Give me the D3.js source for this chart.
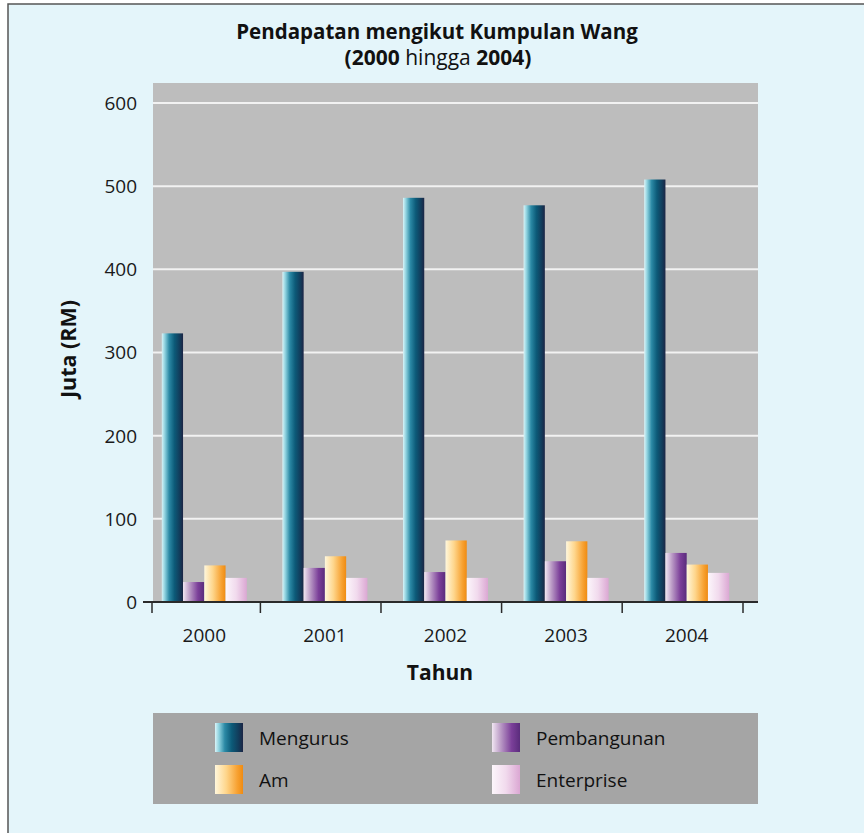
<!DOCTYPE html>
<html><head><meta charset="utf-8">
<script src="https://cdn.jsdelivr.net/npm/d3@7"></script>
<style>
html,body{margin:0;padding:0;background:#fff;}
svg{display:block;font-family:"Open Sans","Noto Sans",sans-serif;}
</style></head>
<body>
<svg id="c" width="864" height="833"></svg>
<script>
const years = ["2000","2001","2002","2003","2004"];
const seriesNames = ["Mengurus","Pembangunan","Am","Enterprise"];
const mengurus    = [323, 397, 486, 477, 508];
const pembangunan = [24, 41, 36, 49, 59];
const am          = [44, 55, 74, 73, 45];
const enterprise  = [29, 29, 29, 29, 35];
const yTicks = [0,100,200,300,400,500,600];

const seriesValues = [mengurus, pembangunan, am, enterprise];
const gradStops = [
  [["0%","#d9f4f8"],["14%","#8fd2df"],["35%","#2b89a5"],["60%","#0c5a78"],["85%","#123b5a"],["100%","#1c2545"]],
  [["0%","#f1e6f2"],["30%","#bc9dc7"],["70%","#7b3f99"],["100%","#5a2c7c"]],
  [["0%","#fff7dc"],["40%","#fed68c"],["80%","#f7a131"],["100%","#ef8b12"]],
  [["0%","#fcf6fb"],["50%","#f1daed"],["100%","#dba7d3"]]
];

const svg = d3.select("#c");
const defs = svg.append("defs");
gradStops.forEach((stops,i)=>{
  const g = defs.append("linearGradient").attr("id","g"+i).attr("x1","0").attr("x2","1").attr("y1","0").attr("y2","0");
  stops.forEach(s=>g.append("stop").attr("offset",s[0]).attr("stop-color",s[1]));
});

// background and frame
svg.append("rect").attr("x",0).attr("y",0).attr("width",864).attr("height",833).attr("fill","#ffffff");
svg.append("rect").attr("x",8).attr("y",4).attr("width",870).attr("height",840)
  .attr("fill","#e4f5fa").attr("stroke","#555").attr("stroke-width",1.5);

const plotL=153, plotR=758, plotT=83, plotB=602;
svg.append("rect").attr("x",plotL).attr("y",plotT).attr("width",plotR-plotL).attr("height",plotB-plotT).attr("fill","#bdbdbd");

const y = d3.scaleLinear().domain([0,600]).range([602,103]);
const x = d3.scaleBand().domain(years).range([144,747]).paddingInner(0.295).paddingOuter(0.1475);
const xs = d3.scaleBand().domain(seriesNames).range([0,x.bandwidth()]);

// gridlines
svg.append("g").selectAll("line").data(yTicks.filter(d=>d>0)).join("line")
  .attr("x1",plotL).attr("x2",plotR).attr("y1",d=>y(d)).attr("y2",d=>y(d))
  .attr("stroke","#f2f2f2").attr("stroke-width",2);

// bars
const groups = svg.append("g").selectAll("g").data(years).join("g")
  .attr("transform",d=>`translate(${x(d)},0)`);
groups.selectAll("rect").data((yr,i)=>seriesNames.map((s,j)=>({s,j,v:seriesValues[j][i]}))).join("rect")
  .attr("x",d=>xs(d.s)).attr("width",xs.bandwidth())
  .attr("y",d=>y(d.v)).attr("height",d=>y(0)-y(d.v))
  .attr("fill",d=>`url(#g${d.j})`);

// y labels
svg.append("g").selectAll("text").data(yTicks).join("text")
  .attr("x",137).attr("y",d=>y(d)).attr("dy","0.36em").attr("text-anchor","end")
  .attr("font-size",19).attr("fill","#1a1a1a").text(d=>d);

// x axis line and ticks
svg.append("line").attr("x1",143).attr("x2",plotR).attr("y1",602).attr("y2",602).attr("stroke","#2a2a2a").attr("stroke-width",2);
const tickPos = [152].concat(years.slice(1).map(d=>x(d)-22)).concat([743]);
svg.append("g").selectAll("line").data(tickPos).join("line")
  .attr("x1",d=>d).attr("x2",d=>d).attr("y1",602).attr("y2",613).attr("stroke","#2a2a2a").attr("stroke-width",1.5);
svg.append("g").selectAll("text").data(years).join("text")
  .attr("x",d=>x(d)+x.bandwidth()/2).attr("y",642).attr("text-anchor","middle")
  .attr("font-size",19).attr("fill","#1a1a1a").text(d=>d);

// axis titles
svg.append("text").attr("x",440).attr("y",680).attr("text-anchor","middle")
  .attr("font-size",21).attr("font-weight","bold").attr("fill","#111").text("Tahun");
svg.append("text").attr("transform","translate(76,349) rotate(-90)").attr("text-anchor","middle")
  .attr("font-size",21.5).attr("font-weight","bold").attr("fill","#111").text("Juta (RM)");

// title
svg.append("text").attr("x",437).attr("y",39).attr("text-anchor","middle")
  .attr("font-size",20.5).attr("font-weight","bold").attr("fill","#111")
  .text("Pendapatan mengikut Kumpulan Wang");
const t2 = svg.append("text").attr("x",438).attr("y",65).attr("text-anchor","middle")
  .attr("font-size",21).attr("fill","#111");
t2.append("tspan").attr("font-weight","bold").text("(2000");
t2.append("tspan").text(" hingga ");
t2.append("tspan").attr("font-weight","bold").text("2004)");

// legend
svg.append("rect").attr("x",153).attr("y",713).attr("width",605).attr("height",91).attr("fill","#a5a5a5");
const legPos = [[215,723],[492,723],[215,765],[492,765]];
const lg = svg.append("g").selectAll("g").data(seriesNames).join("g")
  .attr("transform",(d,i)=>`translate(${legPos[i][0]},${legPos[i][1]})`);
lg.append("rect").attr("width",28).attr("height",29).attr("fill",(d,i)=>`url(#g${i})`);
lg.append("text").attr("x",44).attr("y",15).attr("dy","0.36em").attr("font-size",19).attr("fill","#111").text(d=>d);
</script>
</body></html>
